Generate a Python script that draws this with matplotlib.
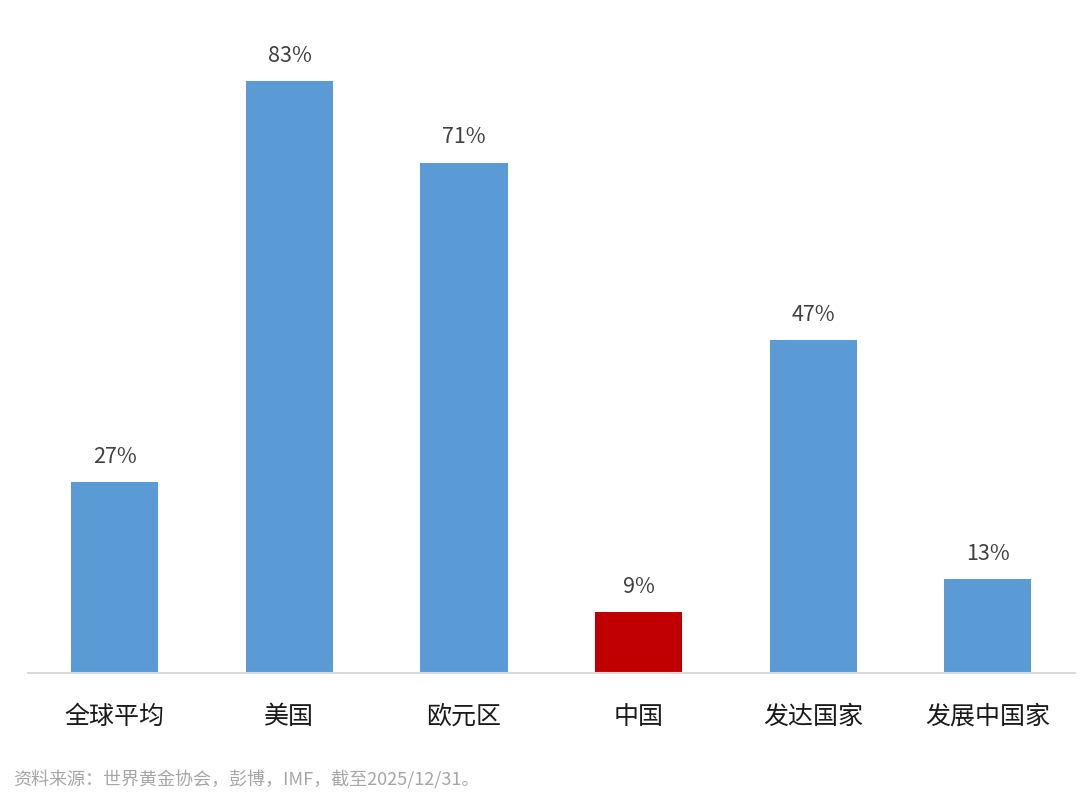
import matplotlib
matplotlib.use("Agg")
import matplotlib.pyplot as plt

plt.rcParams['font.family'] = ['Noto Sans CJK SC', 'DejaVu Sans']

categories = ["全球平均", "美国", "欧元区", "中国", "发达国家", "发展中国家"]
values = [26.7, 82.8, 71.4, 8.6, 46.6, 13.1]
bar_colors = ["#5B9BD5", "#5B9BD5", "#5B9BD5", "#C00000", "#5B9BD5", "#5B9BD5"]
source_note = "资料来源：世界黄金协会，彭博，IMF，截至2025/12/31。"

fig = plt.figure(figsize=(10.8, 7.98), dpi=100)
ax = fig.add_axes([0.0255, 0.1566, 0.97, 0.8064])

x = range(len(categories))
bars = ax.bar(x, values, width=0.5, color=bar_colors)

# value labels above each bar
for b, v in zip(bars, values):
    ax.text(b.get_x() + b.get_width() / 2, v + 3.5, f"{v:.0f}%",
            ha="center", va="center", fontsize=15.5, color="#404040")

ax.set_xlim(-0.5, len(categories) - 0.5)
ax.set_ylim(0, 90)
ax.set_xticks(list(x))
ax.set_xticklabels(categories, fontsize=18, color="#1a1a1a")
ax.tick_params(axis="x", length=0, pad=22)
ax.set_yticks([])

for side in ["top", "right", "left"]:
    ax.spines[side].set_visible(False)
ax.spines["bottom"].set_color("#D9D9D9")
ax.spines["bottom"].set_linewidth(1.5)

fig.text(0.012, 0.0226, source_note, fontsize=13, color="#A6A6A6", ha="left", va="center")

fig.savefig("out.png", dpi=100)
